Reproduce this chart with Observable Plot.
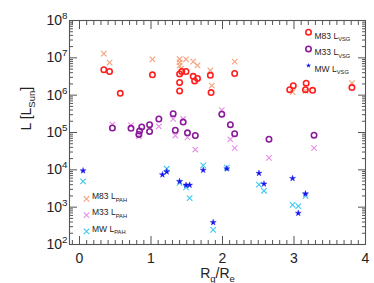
<!DOCTYPE html>
<html><head><meta charset="utf-8">
<script src="https://cdn.jsdelivr.net/npm/d3@7"></script>
<script src="https://cdn.jsdelivr.net/npm/@observablehq/plot@0.6"></script>
<style>
body{margin:0;background:#fff}
svg{font-family:"Liberation Sans",Arial,Helvetica,sans-serif}
</style>
</head><body><div id="chart"></div>
<script>
// ---- data ----
const m83X      = [0.34,0.42,0.57,1.02,1.40,1.40,1.40,1.43,1.49,1.59,1.61,1.65,1.83,1.84,2.17,2.94,2.99,3.16,3.17,3.26,3.81];
const m83Vsg    = [4.8e6,4.3e6,1.12e6,3.5e6,3.7e6,2.2e6,1.3e6,4.3e6,4.3e6,3.2e6,2.4e6,2.8e6,3.4e6,1.17e6,3.8e6,1.4e6,1.8e6,1.4e6,2.1e6,1.35e6,1.6e6];
const m83PahX   = [0.34,0.42,1.02,1.40,1.40,1.40,1.42,1.49,1.59,1.65,1.83,1.85,2.17,2.98,3.16,3.81];
const m83Pah    = [1.3e7,7.4e6,9.1e6,9.3e6,7.6e6,6.2e6,5.1e6,9.1e6,7.9e6,6.3e6,4.6e6,1.8e6,7.9e6,1.2e6,1.3e6,2.1e6];
const m33X      = [0.46,0.72,0.83,0.84,0.87,0.98,0.98,1.11,1.31,1.34,1.45,1.51,1.62,1.99,2.11,2.17,2.65,3.28];
const m33Vsg    = [1.32e5,1.29e5,8.9e4,1.1e5,1.41e5,1.62e5,1.07e5,2.3e5,3.2e5,1.15e5,1.9e5,9.8e4,8.3e4,3.1e5,1.62e5,9.3e4,6.6e4,8.5e4];
const m33PahX   = [0.46,0.72,0.83,1.11,1.31,1.34,1.45,1.51,1.62,1.99,2.11,2.17,2.65,3.28];
const m33Pah    = [1.62e5,1.55e5,7.9e4,1.45e5,2.3e5,8.3e4,2.3e5,7.4e4,3.5e4,4.0e5,6.5e4,3.8e4,2.1e4,3.8e4];
const mwX       = [0.05,1.16,1.22,1.40,1.49,1.54,1.73,1.87,2.06,2.51,2.58,2.98,3.06,3.16];
const mwVsg     = [9.5e3,7.4e3,8.9e3,4.9e3,3.9e3,3.9e3,9.8e3,390,1.07e4,8.1e3,4.2e3,5.9e3,690,2.3e3];
const mwPahX    = [0.05,1.22,1.40,1.49,1.54,1.73,1.87,2.06,2.51,2.58,2.98,3.06,3.16];
const mwPah     = [4.9e3,1.07e4,4.5e3,3.4e3,1.74e3,1.32e4,245,1.15e4,4.0e3,2.75e3,1.15e3,1.07e3,2.0e3];

const xMajor = [0,1,2,3,4];
const xMinor = [-0.1,0.1,0.2,0.3,0.4,0.5,0.6,0.7,0.8,0.9,1.1,1.2,1.3,1.4,1.5,1.6,1.7,1.8,1.9,2.1,2.2,2.3,2.4,2.5,2.6,2.7,2.8,2.9,3.1,3.2,3.3,3.4,3.5,3.6,3.7,3.8,3.9];
const yMajor = [1e2,1e3,1e4,1e5,1e6,1e7,1e8];
const yMinor = [2,3,4,5,6,7,8,9].flatMap(m => [1e2,1e3,1e4,1e5,1e6,1e7].map(p => m*p));

const vsgLegend = ["M83 L_{VSG}","M33 L_{VSG}","MW L_{VSG}"];
const pahLegend = ["M83 L_{PAH}","M33 L_{PAH}","MW L_{PAH}"];
const xLabel = "R_{g}/R_{e}";
const yLabel = "L [L_{Sun}]";

// ---- style ----
const C = {m83:"#ff1f1f", m83p:"#f5a07c", m33:"#8a1a9a", m33p:"#e690e6", mw:"#1414ee", mwp:"#3ec8f0"};
const axisColor = "#555";
const textColor = "#222";

const pts = (xs, ys) => xs.map((x, i) => ({x, y: ys[i]}));

const marks = [];
// ticks (inward), all four sides
for (const anchor of ["bottom","top"]) {
  marks.push(Plot.axisX(xMajor, {anchor, tickSize:-8, tickFormat:()=>"", label:null, stroke:axisColor}));
  marks.push(Plot.axisX(xMinor, {anchor, tickSize:-4, tickFormat:()=>"", label:null, stroke:axisColor}));
}
for (const anchor of ["left","right"]) {
  marks.push(Plot.axisY(yMajor, {anchor, tickSize:-8, tickFormat:()=>"", label:null, stroke:axisColor}));
  marks.push(Plot.axisY(yMinor, {anchor, tickSize:-4, tickFormat:()=>"", label:null, stroke:axisColor}));
}
// tick labels
marks.push(Plot.axisX(xMajor, {anchor:"bottom", tickSize:0, tickPadding:9, tickFormat:d=>String(d), label:null, fontSize:14, fill:textColor}));
marks.push(Plot.axisY(yMajor, {anchor:"left", tickSize:0, tickPadding:2, tickFormat:d=>`10^{${Math.round(Math.log10(d))}}`, label:null, fontSize:14, fill:textColor}));
marks.push(Plot.frame({stroke:axisColor, strokeWidth:1.1}));

// data
marks.push(Plot.dot(pts(m83PahX, m83Pah), {x:"x", y:"y", symbol:"times", r:2.6, stroke:C.m83p, strokeWidth:1.1}));
marks.push(Plot.dot(pts(m33PahX, m33Pah), {x:"x", y:"y", symbol:"times", r:2.6, stroke:C.m33p, strokeWidth:1.1}));
marks.push(Plot.dot(pts(mwPahX, mwPah), {x:"x", y:"y", symbol:"times", r:2.6, stroke:C.mwp, strokeWidth:1.1}));
marks.push(Plot.dot(pts(m83X, m83Vsg), {x:"x", y:"y", r:2.7, stroke:C.m83, strokeWidth:1.6}));
marks.push(Plot.dot(pts(m33X, m33Vsg), {x:"x", y:"y", r:2.7, stroke:C.m33, strokeWidth:1.6}));
marks.push(Plot.dot(pts(mwX, mwVsg), {x:"x", y:"y", symbol:"star", r:1.9, fill:C.mw, stroke:C.mw, strokeWidth:0.4}));

// legends
const vsgStyle = [{stroke:C.m83, strokeWidth:1.6, r:2.7}, {stroke:C.m33, strokeWidth:1.6, r:2.7}, {symbol:"star", fill:C.mw, r:1.6}];
vsgLegend.forEach((lab, i) => {
  marks.push(Plot.dot([lab], {frameAnchor:"top-right", dx:-57, dy:11.7 + i*16.7, ...vsgStyle[i]}));
  marks.push(Plot.text([lab], {text:d=>d, frameAnchor:"top-right", dx:-51, dy:12 + i*16.7, textAnchor:"start", fontSize:8.5, fill:textColor}));
});
const pahCol = [C.m83p, C.m33p, C.mwp];
pahLegend.forEach((lab, i) => {
  marks.push(Plot.dot([lab], {frameAnchor:"bottom-left", dx:17, dy:-45.7 + i*16.3, symbol:"times", r:2.6, stroke:pahCol[i], strokeWidth:1.1}));
  marks.push(Plot.text([lab], {text:d=>d, frameAnchor:"bottom-left", dx:22.5, dy:-45.4 + i*16.3, textAnchor:"start", fontSize:8.5, fill:textColor}));
});
// axis titles
marks.push(Plot.text([xLabel], {text:d=>d, frameAnchor:"bottom", dy:33.7, lineAnchor:"bottom", fontSize:14, fill:textColor}));
marks.push(Plot.text([yLabel], {text:d=>d, frameAnchor:"left", dx:-38.5, dy:-2, rotate:-90, lineAnchor:"bottom", fontSize:14, fill:textColor}));

const chart = Plot.plot({
  width:374, height:283,
  marginLeft:69, marginRight:9, marginTop:20, marginBottom:39,
  x:{domain:[-0.14,4.0]},
  y:{type:"log", domain:[1e2,1e8]},
  style:{background:"#fff", fontFamily:"'Liberation Sans', Arial, sans-serif"},
  marks
});
document.getElementById("chart").appendChild(chart);

// render _{..} and ^{..} as sub/superscripts
function richify(svg) {
  svg.querySelectorAll("text").forEach(t => {
    const s = t.textContent;
    if (!/[_^]\{/.test(s)) return;
    const fs = parseFloat(getComputedStyle(t).fontSize) || 10;
    while (t.firstChild) t.removeChild(t.firstChild);
    let shift = 0;
    const re = /([_^])\{([^}]*)\}|([^_^]+)/g;
    let m;
    while ((m = re.exec(s))) {
      const ts = document.createElementNS("http://www.w3.org/2000/svg", "tspan");
      let target = 0;
      if (m[1] === "_") { target = 0.3*fs; ts.setAttribute("font-size", (0.68*fs).toFixed(2)); ts.textContent = m[2]; }
      else if (m[1] === "^") { target = -0.42*fs; ts.setAttribute("font-size", (0.7*fs).toFixed(2)); ts.textContent = m[2]; }
      else { ts.textContent = m[3]; }
      const d = target - shift;
      if (d) ts.setAttribute("dy", d.toFixed(2));
      shift = target;
      t.appendChild(ts);
    }
  });
}
richify(chart);
</script></body></html>
